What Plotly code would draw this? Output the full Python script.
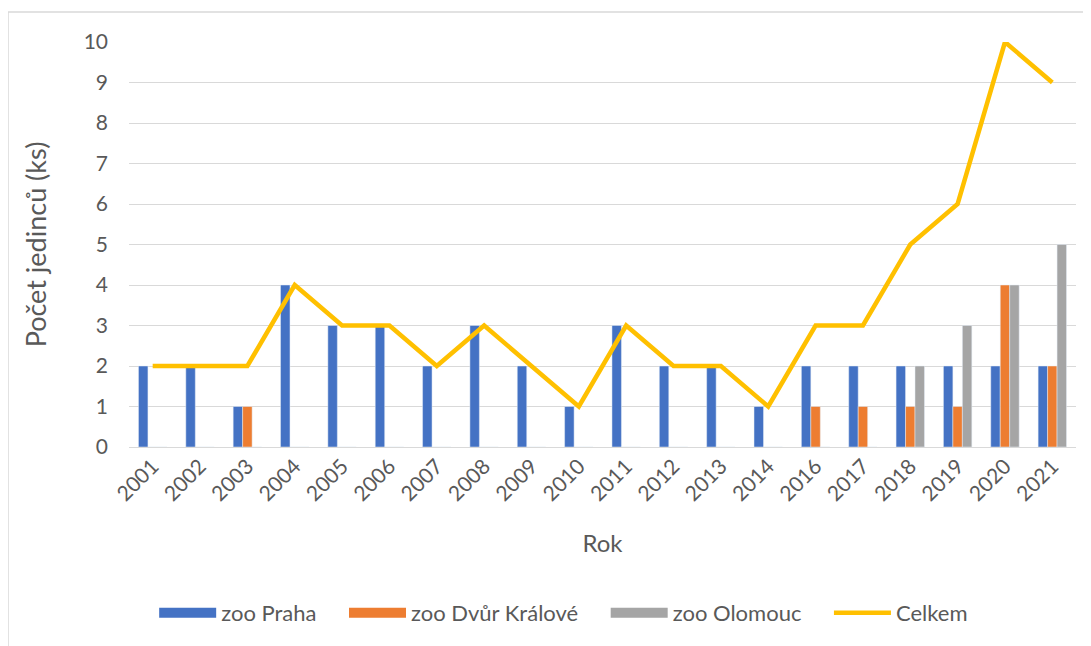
import plotly.graph_objects as go

years = ["2001", "2002", "2003", "2004", "2005", "2006", "2007", "2008", "2009", "2010",
         "2011", "2012", "2013", "2014", "2016", "2017", "2018", "2019", "2020", "2021"]
praha = [2, 2, 1, 4, 3, 3, 2, 3, 2, 1, 3, 2, 2, 1, 2, 2, 2, 2, 2, 2]
dvur = [0, 0, 1, 0, 0, 0, 0, 0, 0, 0, 0, 0, 0, 0, 1, 1, 1, 1, 4, 2]
olomouc = [0, 0, 0, 0, 0, 0, 0, 0, 0, 0, 0, 0, 0, 0, 0, 0, 2, 3, 4, 5]
celkem = [2, 2, 2, 4, 3, 3, 2, 3, 2, 1, 3, 2, 2, 1, 3, 3, 5, 6, 10, 9]
yticks = [0, 1, 2, 3, 4, 5, 6, 7, 8, 9, 10]

series = [("zoo Praha", praha, "#4472C4"),
          ("zoo Dvůr Králové", dvur, "#ED7D31"),
          ("zoo Olomouc", olomouc, "#A5A5A5")]

FONT = "Lato"
TXT = "#595959"
PAD = "\u00a0" * 4  # extra spacing between legend entries (Excel style)

fig = go.Figure()
for name, vals, col in series:
    fig.add_trace(go.Bar(x=years, y=vals, name=name, marker_color=col,
                         legendgroup=name, showlegend=False))
    # legend-only entry with a wide rectangular swatch (Excel style)
    fig.add_trace(go.Scatter(x=[None], y=[None], name=name + PAD, mode="lines",
                             legendgroup=name, hoverinfo="skip",
                             line=dict(color=col, width=12)))
fig.add_trace(go.Scatter(x=years, y=celkem, name="Celkem", mode="lines",
                         line=dict(color="#FFC000", width=4.5)))

# page body has an 8px margin; plot area in page coords: x 129-1076, y 42-447
L, T = 121, 34
PW, PH = 947, 405
fig.update_layout(
    width=1091, height=646,
    margin=dict(l=L, r=1091 - L - PW, t=T, b=646 - T - PH),
    paper_bgcolor="white", plot_bgcolor="white",
    barmode="group", bargap=0.4, bargroupgap=0,
    font=dict(family=FONT, color=TXT, size=16),
    showlegend=True,
    legend=dict(orientation="h", x=0.459, xanchor="center", y=-0.41, yanchor="middle",
                font=dict(size=22, color=TXT), itemwidth=57, traceorder="normal"),
    shapes=[dict(type="rect", xref="paper", yref="paper",
                 x0=(0 - L) / PW, x1=(1110 - L) / PW,
                 y0=-(660 - T - PH) / PH, y1=1 + (T - 4) / PH,
                 line=dict(color="#D9D9D9", width=1.5), layer="below")],
)
fig.update_xaxes(
    type="category", tickangle=-45, showgrid=False, showline=False, ticks="",
    tickfont=dict(size=21, color=TXT), ticklabelstandoff=2,
    title=dict(text="Rok", font=dict(size=24, color=TXT), standoff=30),
)
fig.update_yaxes(
    range=[0, 10], tickvals=yticks, showgrid=True, gridcolor="#D9D9D9", gridwidth=1,
    zeroline=True, zerolinecolor="#D9D9D9", zerolinewidth=1, showline=False, ticks="",
    tickfont=dict(size=21, color=TXT), ticklabelstandoff=20,
    title=dict(text="Počet jedinců (ks)", font=dict(size=27, color=TXT), standoff=29),
)

fig.write_html("out.html")
